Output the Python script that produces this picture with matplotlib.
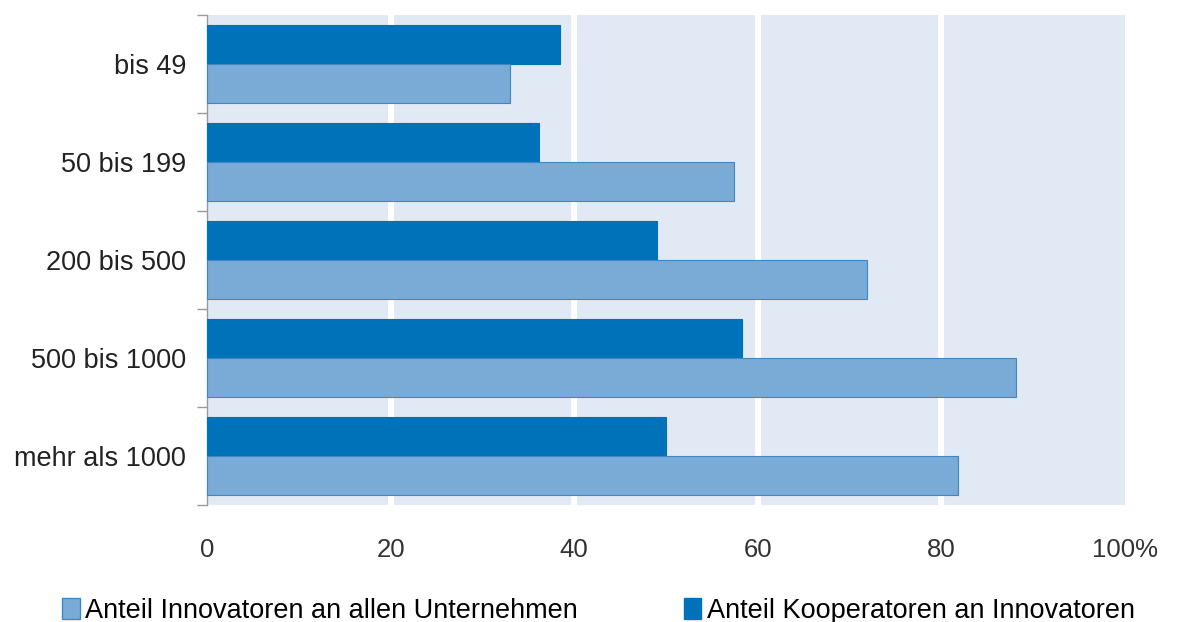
import matplotlib
matplotlib.use("Agg")
import matplotlib.pyplot as plt
from matplotlib.patches import Patch
import numpy as np

plt.rcParams['font.family'] = ['Liberation Sans', 'DejaVu Sans']

categories = ["bis 49", "50 bis 199", "200 bis 500", "500 bis 1000", "mehr als 1000"]
innovatoren = [33.0, 57.4, 71.9, 88.1, 81.8]
kooperatoren = [38.5, 36.2, 49.0, 58.3, 50.0]
xticks = [0, 20, 40, 60, 80, 100]
xticklabels = ["0", "20", "40", "60", "80", "100%"]
label_innov = "Anteil Innovatoren an allen Unternehmen"
label_koop = "Anteil Kooperatoren an Innovatoren"

c_light = "#7AAAD6"
c_light_edge = "#3F88C4"
c_dark = "#0072BA"
c_bg = "#E1E9F4"

fig = plt.figure(figsize=(11.84, 6.22), dpi=100)
ax = fig.add_axes([207/1184, 1-505/622, (1125-207)/1184, (505-15)/622])
ax.set_facecolor(c_bg)

y = np.arange(len(categories))
h = 0.4
ax.barh(y - h/2, kooperatoren, height=h, color=c_dark, edgecolor=c_dark, linewidth=0.8, zorder=3)
ax.barh(y + h/2, innovatoren, height=h, color=c_light, edgecolor=c_light_edge, linewidth=0.8, zorder=3)

ax.set_xlim(0, 100)
ax.set_ylim(len(categories) - 0.5, -0.5)
ax.set_xticks(xticks)
ax.set_xticklabels(xticklabels, fontsize=18.5, color="#333333")
for xv in xticks[1:-1]:
    ax.axvline(xv, color="white", linewidth=4.3, zorder=1)

ax.set_yticks(y)
ax.set_yticklabels(categories, fontsize=19.5, color="#222222")
ax.set_yticks(np.arange(-0.5, len(categories), 1.0), minor=True)
ax.tick_params(axis='y', which='major', length=0, pad=15)
ax.tick_params(axis='y', which='minor', length=7, color="#999999", width=1)
ax.tick_params(axis='x', length=0, pad=24)

for s in ["top", "right", "bottom"]:
    ax.spines[s].set_visible(False)
ax.spines["left"].set_color("#999999")
ax.spines["left"].set_linewidth(1)

handles = [Patch(facecolor=c_light, edgecolor=c_light_edge, label=label_innov),
           Patch(facecolor=c_dark, edgecolor=c_dark, label=label_koop)]
fig.legend(handles=handles, loc="lower left", bbox_to_anchor=(38/1184, -0.042), ncol=2,
           frameon=False, fontsize=19.5, handlelength=0.65, handleheight=0.8,
           handletextpad=0.2, columnspacing=3.9)

fig.savefig("out.png", dpi=100, facecolor="white")
